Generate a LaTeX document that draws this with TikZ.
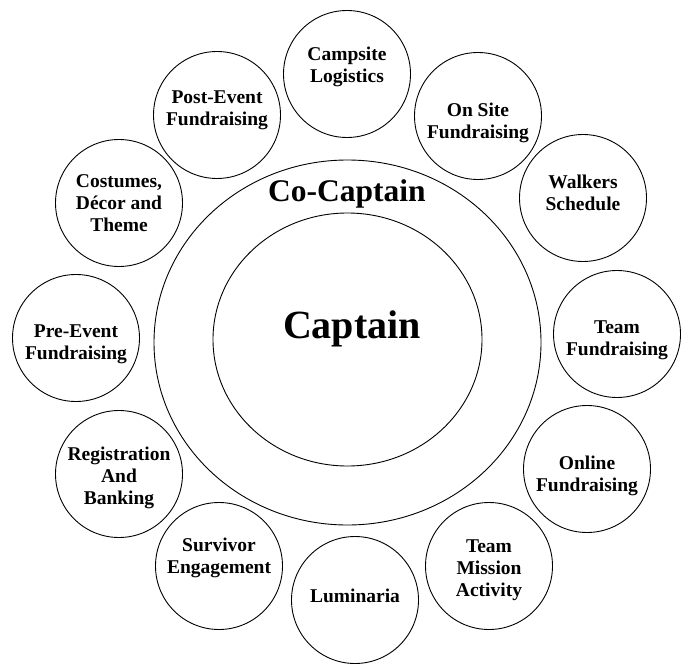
\documentclass[tikz,border=0pt]{standalone}
\usepackage{fontspec}
\setmainfont{Liberation Serif}
\usetikzlibrary{shapes.geometric}

\begin{document}
\begin{tikzpicture}[
	x = 1pt, y = -1pt,
	ring/.style = {draw, ellipse, line width = 0.9pt, inner sep = 0pt},
	task/.style = {draw, circle, line width = 0.9pt, inner sep = 0pt, minimum size = 127pt},
	tasktext/.style = {align = center, inner sep = 0pt, font = \fontsize{19.5}{22}\selectfont\bfseries}
]
\useasboundingbox (0, 0) rectangle (687, 663);

\node[ring, minimum width = 387pt, minimum height = 365pt] (cocaptain) at (347.5, 342.5) {};
\node[ring, minimum width = 269pt, minimum height = 253pt] (captain) at (347.5, 339.5) {};
\node[font = \fontsize{31.5}{35}\selectfont\bfseries] (cocaptainlabel) at (347, 194) {Co-Captain};
\node[font = \fontsize{40}{44}\selectfont\bfseries] (captainlabel) at (352, 329) {Captain};

\foreach \cx/\cy/\dy/\name/\txt in {
	347/74/7/campsite/{Campsite\\Logistics},
	478/116/-7/onsite/{On Site\\Fundraising},
	583/198/5/walkers/{Walkers\\Schedule},
	617/334/-6/teamfund/{Team\\Fundraising},
	587/469/-7/online/{Online\\Fundraising},
	489/566/-4/mission/{Team\\Mission\\Activity},
	355/600/4/luminaria/{Luminaria},
	219/566/8/survivor/{Survivor\\Engagement},
	119/474/-4/registration/{Registration\\And\\Banking},
	76/338/-6/preevent/{Pre-Event\\Fundraising},
	119/203/0/costumes/{Costumes,\\Décor and\\Theme},
	217/115/5/postevent/{Post-Event\\Fundraising}} {
	\node[task] (\name) at (\cx, \cy) {};
	\node[tasktext] (\name-text) at ([yshift = \dy]\name.center) {\txt};
}
\end{tikzpicture}
\end{document}
